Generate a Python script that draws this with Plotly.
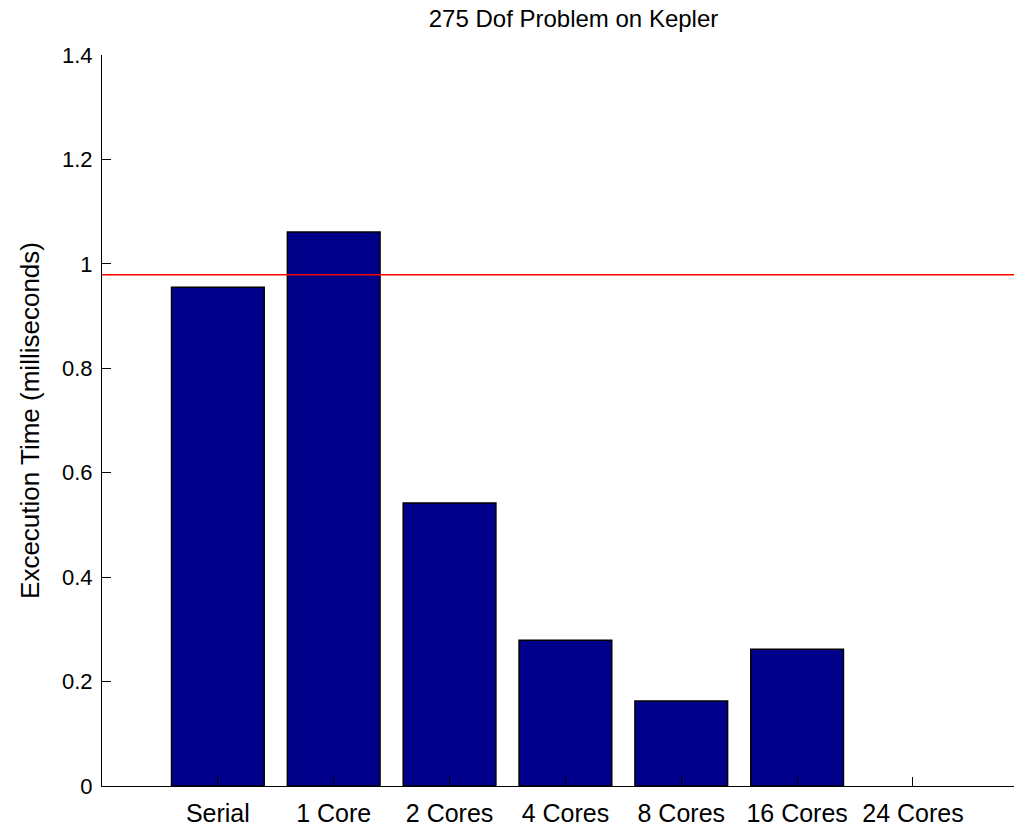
import plotly.graph_objects as go

categories = ["Serial", "1 Core", "2 Cores", "4 Cores", "8 Cores", "16 Cores", "24 Cores"]
exec_times = [0.955, 1.061, 0.542, 0.279, 0.163, 0.262, 0.0]
reference_line = 0.979
y_ticks = [0, 0.2, 0.4, 0.6, 0.8, 1, 1.2, 1.4]
y_tick_labels = ["0", "0.2", "0.4", "0.6", "0.8", "1", "1.2", "1.4"]

positions = list(range(1, len(categories) + 1))
FONT = "Liberation Sans, Arial, Helvetica, sans-serif"
edge_widths = [1.5 if v > 0 else 0 for v in exec_times]

fig = go.Figure()
fig.add_trace(go.Bar(
    x=positions, y=exec_times, width=0.8,
    marker=dict(color="#00008B", line=dict(color="black", width=edge_widths)),
    showlegend=False,
))
fig.add_shape(type="line", xref="paper", yref="y", x0=0, x1=1,
              y0=reference_line, y1=reference_line,
              line=dict(color="#FF0000", width=1.5))

fig.update_layout(
    width=1014, height=827,
    margin=dict(l=102, r=0, t=55, b=41),
    paper_bgcolor="white", plot_bgcolor="white",
    font=dict(family=FONT, size=22, color="black"),
    title=dict(text="275 Dof Problem on Kepler", x=0.517, xref="paper",
               xanchor="center", y=0.977, yref="container", yanchor="middle",
               font=dict(size=24, family=FONT)),
    bargap=0.2,
)
fig.update_xaxes(
    range=[0, 7.872], tickmode="array", tickvals=positions, ticktext=categories,
    ticks="inside", ticklen=9, tickwidth=1, tickcolor="black",
    showline=True, linecolor="black", linewidth=1, mirror=False,
    showgrid=False, zeroline=False, ticklabelstandoff=5,
    tickfont=dict(size=25, family=FONT),
)
fig.update_yaxes(
    range=[0, 1.4], tickmode="array", tickvals=y_ticks, ticktext=y_tick_labels,
    ticks="inside", ticklen=9, tickwidth=1, tickcolor="black",
    showline=True, linecolor="black", linewidth=1, mirror=False,
    showgrid=False, zeroline=False, ticklabelstandoff=4,
    tickfont=dict(size=22, family=FONT),
    title=dict(text="Excecution Time (milliseconds)", standoff=14,
               font=dict(size=26, family=FONT)),
)

fig.write_html(
    "out.html",
    config={"displayModeBar": False},
    post_script="document.body.style.margin='0';document.body.style.overflow='hidden';",
)
